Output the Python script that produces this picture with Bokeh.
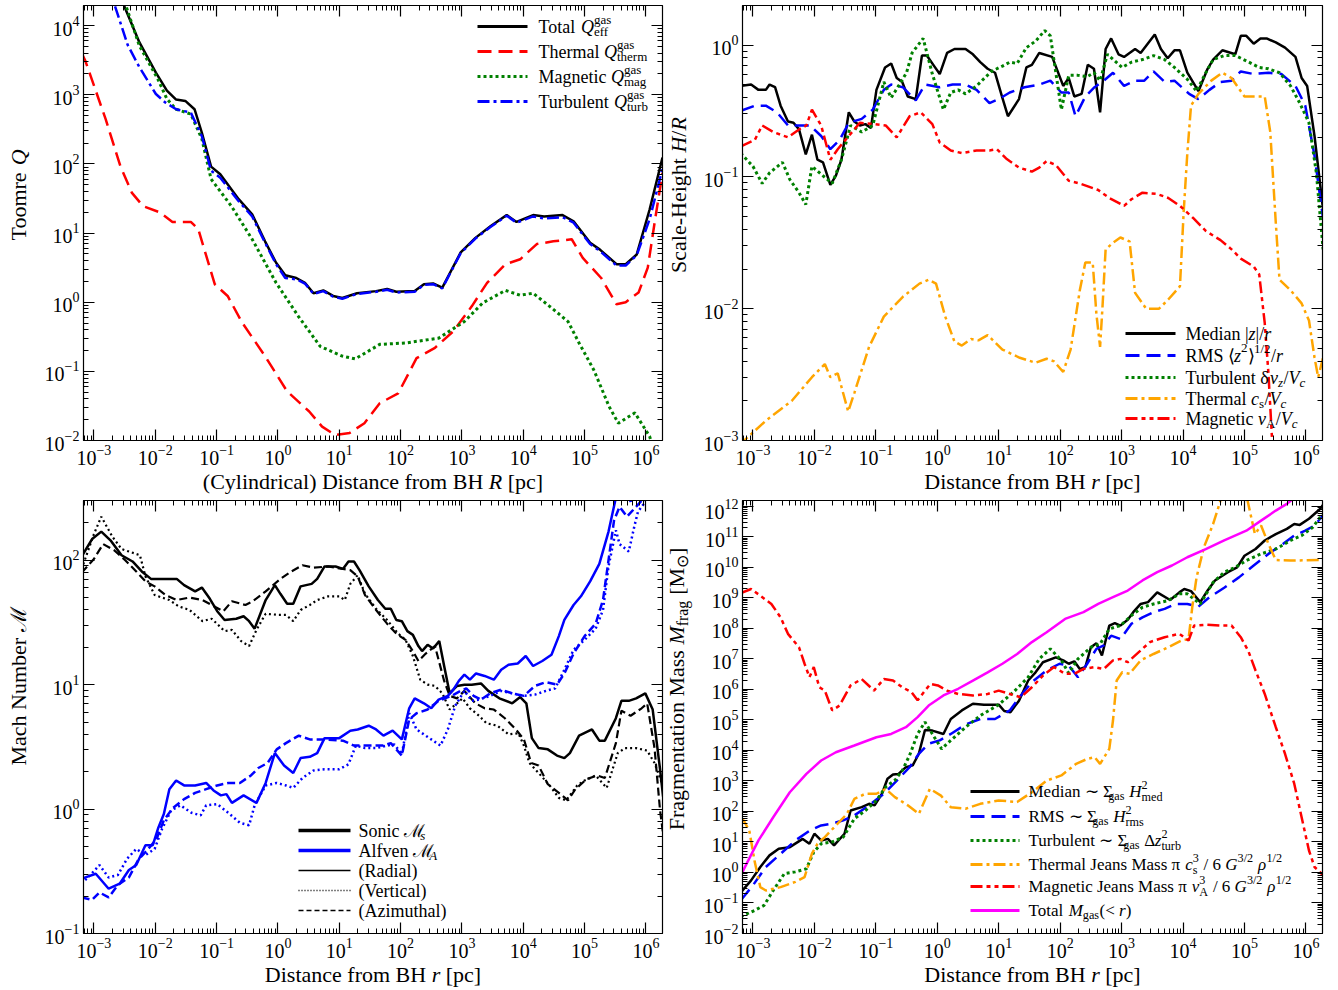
import numpy as np
from math import pi
from bokeh.plotting import figure
from bokeh.layouts import row, column
from bokeh.models import LogAxis, FixedTicker, CustomJSTickFormatter, Label, Arrow, Range1d, Spacer
from bokeh.embed import file_html
from bokeh.resources import INLINE

# ---------------- data: (log10 r [pc], log10 value) ----------------
# Panel 1: Toomre Q
Q_TOTAL = [(-2.58, 4.60), (-2.51, 4.29), (-2.26, 3.76), (-1.99, 3.32), (-1.81, 3.06), (-1.66, 2.93), (-1.51, 2.91),
           (-1.36, 2.79), (-1.24, 2.45), (-1.09, 1.96), (-0.94, 1.85), (-0.64, 1.49), (-0.42, 1.27), (-0.21, 0.88),
           (-0.03, 0.57), (0.12, 0.39), (0.30, 0.35), (0.44, 0.28), (0.58, 0.13), (0.74, 0.17), (0.90, 0.09),
           (1.05, 0.06), (1.29, 0.13), (1.60, 0.16), (1.78, 0.19), (1.93, 0.15), (2.23, 0.16), (2.38, 0.26),
           (2.53, 0.27), (2.68, 0.21), (2.98, 0.72), (3.22, 0.93), (3.47, 1.10), (3.73, 1.26), (3.89, 1.16),
           (4.16, 1.26), (4.34, 1.24), (4.64, 1.26), (4.82, 1.17), (5.09, 0.86), (5.25, 0.76), (5.52, 0.55),
           (5.67, 0.55), (5.85, 0.69), (6.06, 1.34), (6.27, 2.09)]
Q_THERM = [(-3.20, 3.60), (-3.14, 3.49), (-2.81, 2.65), (-2.57, 1.97), (-2.38, 1.58), (-2.20, 1.39), (-1.93, 1.30),
           (-1.72, 1.16), (-1.42, 1.16), (-1.30, 1.06), (-1.03, 0.26), (-0.82, 0.09), (-0.58, -0.30), (-0.21, -0.78),
           (0.15, -1.29), (0.51, -1.58), (0.72, -1.80), (0.93, -1.92), (1.17, -1.89), (1.41, -1.75), (1.66, -1.46),
           (1.96, -1.32), (2.26, -0.81), (2.56, -0.66), (2.86, -0.42), (3.16, -0.06), (3.41, 0.28), (3.71, 0.55),
           (3.95, 0.62), (4.22, 0.84), (4.49, 0.88), (4.79, 0.91), (4.97, 0.64), (5.27, 0.35), (5.52, -0.03),
           (5.67, 0.00), (5.88, 0.14), (6.03, 0.50), (6.15, 1.20), (6.27, 1.87)]
Q_MAG = [(-2.55, 4.60), (-2.48, 4.29), (-2.26, 3.71), (-1.96, 3.23), (-1.81, 2.94), (-1.66, 2.79), (-1.42, 2.72),
         (-1.24, 2.36), (-1.09, 1.78), (-0.76, 1.39), (-0.42, 0.91), (-0.03, 0.28), (0.33, -0.20), (0.69, -0.64),
         (1.05, -0.78), (1.26, -0.82), (1.66, -0.61), (2.08, -0.59), (2.62, -0.52), (3.04, -0.28), (3.34, -0.01),
         (3.71, 0.17), (3.95, 0.10), (4.16, 0.13), (4.43, -0.06), (4.73, -0.28), (4.91, -0.59), (5.15, -0.98),
         (5.40, -1.51), (5.55, -1.75), (5.82, -1.60), (6.06, -1.94), (6.15, -2.20)]
Q_TURB = [(-2.75, 4.60), (-2.66, 4.29), (-2.45, 3.72), (-2.26, 3.40), (-1.99, 3.01), (-1.84, 2.89), (-1.66, 2.79),
          (-1.42, 2.74), (-1.24, 2.40), (-1.09, 1.90), (-0.94, 1.80), (-0.64, 1.46), (-0.42, 1.24), (-0.21, 0.86),
          (-0.03, 0.55), (0.12, 0.35), (0.30, 0.33), (0.44, 0.27), (0.58, 0.12), (0.74, 0.16), (0.90, 0.08),
          (1.05, 0.05), (1.29, 0.12), (1.60, 0.15), (1.78, 0.18), (1.93, 0.14), (2.23, 0.15), (2.38, 0.25),
          (2.53, 0.26), (2.68, 0.20), (2.98, 0.71), (3.22, 0.92), (3.47, 1.09), (3.73, 1.25), (3.89, 1.15),
          (4.16, 1.24), (4.34, 1.21), (4.64, 1.23), (4.82, 1.15), (5.09, 0.84), (5.25, 0.74), (5.52, 0.53),
          (5.67, 0.53), (5.85, 0.68), (6.06, 1.20), (6.27, 1.93)]

# Panel 2: scale height H/R
H_MED = [(-3.20, -0.31), (-3.03, -0.30), (-2.91, -0.34), (-2.79, -0.34), (-2.73, -0.30), (-2.64, -0.32), (-2.55, -0.46),
         (-2.43, -0.58), (-2.34, -0.59), (-2.25, -0.64), (-2.14, -0.83), (-2.04, -0.68), (-1.95, -0.87), (-1.86, -0.89),
         (-1.74, -1.06), (-1.65, -0.99), (-1.56, -0.87), (-1.44, -0.51), (-1.35, -0.58), (-1.26, -0.61), (-1.17, -0.60),
         (-1.08, -0.63), (-0.99, -0.34), (-0.85, -0.17), (-0.75, -0.14), (-0.66, -0.25), (-0.57, -0.28), (-0.48, -0.39),
         (-0.35, -0.41), (-0.25, -0.08), (-0.17, -0.08), (-0.05, -0.16), (0.04, -0.22), (0.16, -0.06), (0.28, -0.03),
         (0.46, -0.03), (0.58, -0.07), (0.70, -0.13), (0.82, -0.18), (0.94, -0.21), (1.06, -0.40), (1.15, -0.54),
         (1.33, -0.41), (1.45, -0.17), (1.54, -0.15), (1.66, -0.06), (1.87, -0.09), (2.05, -0.31), (2.14, -0.25),
         (2.23, -0.39), (2.35, -0.37), (2.45, -0.15), (2.55, -0.18), (2.65, -0.51), (2.74, -0.03), (2.83, 0.05),
         (2.95, -0.07), (3.04, -0.09), (3.22, -0.03), (3.31, -0.06), (3.54, 0.08), (3.64, -0.03), (3.75, -0.10),
         (3.86, -0.04), (3.95, -0.04), (4.07, -0.21), (4.25, -0.35), (4.40, -0.18), (4.49, -0.11), (4.64, -0.04),
         (4.85, -0.07), (4.94, 0.07), (5.03, 0.07), (5.15, 0.01), (5.26, 0.05), (5.36, 0.05), (5.51, 0.02),
         (5.66, -0.02), (5.83, -0.09), (5.93, -0.25), (6.02, -0.31), (6.14, -0.69), (6.28, -1.25)]
H_RMS = [(-3.20, -0.50), (-2.97, -0.46), (-2.79, -0.46), (-2.61, -0.51), (-2.43, -0.61), (-2.25, -0.61), (-2.07, -0.61),
         (-1.89, -0.69), (-1.74, -0.79), (-1.59, -0.72), (-1.44, -0.59), (-1.23, -0.56), (-1.05, -0.49), (-0.87, -0.34),
         (-0.75, -0.30), (-0.56, -0.32), (-0.35, -0.42), (-0.20, -0.30), (0.04, -0.32), (0.25, -0.30), (0.46, -0.30),
         (0.64, -0.34), (0.85, -0.44), (1.00, -0.41), (1.18, -0.36), (1.42, -0.32), (1.66, -0.30), (1.84, -0.27),
         (2.02, -0.36), (2.14, -0.36), (2.25, -0.54), (2.41, -0.39), (2.56, -0.32), (2.71, -0.27), (2.86, -0.21),
         (3.04, -0.31), (3.22, -0.27), (3.37, -0.27), (3.52, -0.20), (3.70, -0.28), (3.86, -0.27), (4.10, -0.37),
         (4.25, -0.41), (4.43, -0.34), (4.61, -0.28), (4.79, -0.27), (4.94, -0.20), (5.15, -0.22), (5.39, -0.21),
         (5.60, -0.22), (5.83, -0.31), (5.99, -0.46), (6.14, -0.84), (6.28, -1.32)]
H_TURB = [(-3.20, -0.82), (-3.00, -0.92), (-2.85, -1.05), (-2.73, -0.97), (-2.52, -0.89), (-2.40, -1.02), (-2.25, -1.12),
          (-2.14, -1.21), (-2.04, -0.92), (-1.89, -0.98), (-1.71, -1.05), (-1.56, -0.87), (-1.41, -0.61), (-1.23, -0.66),
          (-1.05, -0.61), (-0.87, -0.28), (-0.75, -0.40), (-0.63, -0.31), (-0.50, -0.21), (-0.41, -0.06), (-0.23, 0.05),
          (-0.08, -0.22), (0.10, -0.49), (0.22, -0.36), (0.34, -0.34), (0.46, -0.37), (0.64, -0.31), (0.88, -0.20),
          (1.06, -0.16), (1.18, -0.13), (1.30, -0.14), (1.45, -0.02), (1.60, 0.03), (1.75, 0.11), (1.84, 0.07),
          (1.93, -0.21), (2.02, -0.49), (2.14, -0.23), (2.29, -0.23), (2.44, -0.24), (2.55, -0.21), (2.65, -0.27),
          (2.77, -0.07), (2.89, -0.12), (3.01, -0.17), (3.16, -0.13), (3.34, -0.11), (3.52, -0.08), (3.70, -0.11),
          (3.86, -0.17), (4.07, -0.26), (4.22, -0.35), (4.37, -0.21), (4.49, -0.11), (4.67, -0.08), (4.85, -0.08),
          (5.03, -0.12), (5.24, -0.17), (5.39, -0.18), (5.57, -0.21), (5.75, -0.31), (5.90, -0.44), (6.05, -0.59),
          (6.17, -0.97), (6.28, -1.55)]
H_THERM = [(-3.20, -3.05), (-3.12, -2.99), (-2.79, -2.85), (-2.37, -2.70), (-2.04, -2.52), (-1.83, -2.42), (-1.74, -2.52),
           (-1.62, -2.49), (-1.45, -2.78), (-1.35, -2.64), (-1.11, -2.29), (-0.87, -2.06), (-0.56, -1.91), (-0.29, -1.81),
           (-0.14, -1.78), (-0.02, -1.81), (0.13, -2.06), (0.28, -2.25), (0.40, -2.28), (0.55, -2.23), (0.67, -2.24),
           (0.82, -2.20), (1.06, -2.31), (1.33, -2.37), (1.60, -2.41), (1.78, -2.38), (1.90, -2.40), (2.05, -2.48),
           (2.17, -2.31), (2.32, -1.86), (2.41, -1.65), (2.53, -1.65), (2.59, -2.04), (2.65, -2.29), (2.69, -1.98),
           (2.74, -1.55), (2.86, -1.50), (2.98, -1.46), (3.13, -1.49), (3.22, -1.88), (3.40, -2.00), (3.61, -2.00),
           (3.76, -1.93), (3.95, -1.83), (4.01, -1.27), (4.07, -0.82), (4.13, -0.46), (4.25, -0.37), (4.46, -0.27),
           (4.64, -0.21), (4.79, -0.25), (5.00, -0.39), (5.15, -0.39), (5.33, -0.39), (5.42, -0.66), (5.51, -1.35),
           (5.57, -1.78), (5.75, -1.86), (5.93, -1.96), (6.05, -2.09), (6.14, -2.37), (6.20, -2.52), (6.28, -2.37)]
H_MAG = [(-3.20, -0.77), (-2.97, -0.72), (-2.85, -0.61), (-2.67, -0.66), (-2.43, -0.70), (-2.25, -0.64), (-2.13, -0.61),
         (-2.04, -0.49), (-1.89, -0.61), (-1.74, -0.87), (-1.62, -0.79), (-1.44, -0.69), (-1.26, -0.59), (-1.02, -0.60),
         (-0.84, -0.61), (-0.66, -0.70), (-0.45, -0.54), (-0.27, -0.51), (-0.08, -0.60), (0.04, -0.74), (0.22, -0.80),
         (0.40, -0.82), (0.64, -0.80), (0.85, -0.80), (0.97, -0.79), (1.12, -0.86), (1.33, -0.93), (1.54, -0.96),
         (1.66, -0.93), (1.78, -0.88), (1.93, -0.91), (2.14, -1.03), (2.32, -1.05), (2.62, -1.10), (2.80, -1.16),
         (3.04, -1.22), (3.16, -1.17), (3.34, -1.12), (3.58, -1.13), (3.76, -1.16), (3.95, -1.22), (4.16, -1.31),
         (4.37, -1.41), (4.61, -1.48), (4.79, -1.55), (4.94, -1.62), (5.15, -1.68), (5.24, -1.74), (5.33, -2.11),
         (5.39, -2.49), (5.45, -3.00), (5.47, -3.40)]

# Panel 3: Mach numbers
MS_RAD = [(-3.20, 2.03), (-3.03, 2.17), (-2.88, 2.23), (-2.73, 2.16), (-2.55, 2.04), (-2.37, 1.99), (-2.22, 1.91),
          (-2.07, 1.85), (-1.92, 1.85), (-1.65, 1.85), (-1.53, 1.80), (-1.35, 1.75), (-1.24, 1.78), (-1.11, 1.69),
          (-0.99, 1.59), (-0.87, 1.52), (-0.68, 1.53), (-0.56, 1.55), (-0.47, 1.51), (-0.38, 1.45), (-0.20, 1.68),
          (-0.05, 1.80), (0.04, 1.73), (0.15, 1.65), (0.25, 1.65), (0.37, 1.79), (0.55, 1.81), (0.64, 1.85),
          (0.76, 1.95), (0.94, 1.95), (1.06, 1.93), (1.15, 1.99), (1.24, 1.99), (1.33, 1.92), (1.48, 1.79),
          (1.63, 1.68), (1.75, 1.61), (1.84, 1.61), (1.93, 1.52), (2.02, 1.51), (2.11, 1.43), (2.20, 1.40),
          (2.29, 1.31), (2.35, 1.27), (2.44, 1.32), (2.53, 1.29), (2.63, 1.35), (2.71, 1.15), (2.80, 0.93),
          (2.92, 0.99), (3.04, 1.00), (3.16, 1.00), (3.31, 1.01), (3.43, 0.95), (3.61, 0.89), (3.82, 0.85),
          (3.95, 0.90), (4.05, 0.85), (4.14, 0.57), (4.25, 0.49), (4.40, 0.48), (4.55, 0.43), (4.67, 0.41),
          (4.76, 0.45), (4.91, 0.59), (5.12, 0.64), (5.24, 0.55), (5.33, 0.55), (5.51, 0.73), (5.60, 0.87),
          (5.72, 0.87), (5.84, 0.89), (5.99, 0.93), (6.11, 0.80), (6.23, 0.32), (6.28, 0.10)]
MS_VER = [(-3.20, 1.93), (-3.00, 2.21), (-2.88, 2.35), (-2.70, 2.19), (-2.55, 2.09), (-2.25, 2.04), (-2.16, 1.87),
          (-2.01, 1.72), (-1.77, 1.68), (-1.62, 1.63), (-1.44, 1.60), (-1.23, 1.51), (-1.08, 1.53), (-0.87, 1.43),
          (-0.75, 1.44), (-0.60, 1.35), (-0.47, 1.31), (-0.35, 1.44), (-0.20, 1.57), (0.01, 1.56), (0.13, 1.56),
          (0.25, 1.51), (0.37, 1.60), (0.52, 1.64), (0.64, 1.68), (0.82, 1.71), (1.00, 1.71), (1.09, 1.68),
          (1.18, 1.81), (1.30, 1.88), (1.42, 1.73), (1.60, 1.61), (1.78, 1.52), (1.96, 1.41), (2.08, 1.36),
          (2.20, 1.23), (2.32, 1.04), (2.44, 1.00), (2.56, 0.99), (2.68, 0.93), (2.80, 0.80), (2.92, 0.85),
          (3.01, 0.89), (3.13, 0.81), (3.28, 0.75), (3.40, 0.69), (3.58, 0.67), (3.76, 0.60), (3.92, 0.61),
          (4.01, 0.51), (4.10, 0.37), (4.25, 0.29), (4.43, 0.19), (4.58, 0.09), (4.70, 0.07), (4.88, 0.19),
          (5.00, 0.23), (5.18, 0.27), (5.36, 0.17), (5.54, 0.45), (5.66, 0.49), (5.84, 0.49), (6.02, 0.47),
          (6.14, 0.37), (6.28, 0.18)]
MS_AZI = [(-3.20, 1.90), (-3.00, 2.01), (-2.85, 2.13), (-2.67, 2.08), (-2.49, 2.00), (-2.31, 1.91), (-2.16, 1.83),
          (-2.01, 1.79), (-1.83, 1.72), (-1.65, 1.68), (-1.44, 1.70), (-1.23, 1.68), (-1.08, 1.64), (-0.89, 1.59),
          (-0.75, 1.67), (-0.53, 1.64), (-0.41, 1.67), (-0.20, 1.75), (0.04, 1.85), (0.22, 1.91), (0.40, 1.96),
          (0.58, 1.94), (0.82, 1.95), (1.06, 1.93), (1.18, 1.92), (1.30, 1.87), (1.42, 1.72), (1.60, 1.60),
          (1.78, 1.49), (1.93, 1.41), (2.08, 1.36), (2.20, 1.27), (2.29, 1.19), (2.41, 1.25), (2.56, 1.31),
          (2.71, 1.03), (2.80, 0.91), (2.92, 0.89), (3.04, 0.95), (3.22, 0.85), (3.37, 0.81), (3.52, 0.80),
          (3.70, 0.73), (3.88, 0.64), (4.01, 0.56), (4.13, 0.37), (4.25, 0.35), (4.40, 0.20), (4.58, 0.13),
          (4.73, 0.07), (4.85, 0.16), (5.03, 0.24), (5.21, 0.27), (5.33, 0.25), (5.51, 0.53), (5.60, 0.79),
          (5.75, 0.75), (5.93, 0.81), (6.02, 0.85), (6.14, 0.49), (6.23, -0.01), (6.28, -0.20)]
MA_RAD = [(-3.20, -0.56), (-2.97, -0.52), (-2.76, -0.64), (-2.58, -0.60), (-2.43, -0.49), (-2.31, -0.45), (-2.16, -0.29),
          (-2.04, -0.29), (-1.95, -0.15), (-1.86, -0.04), (-1.77, 0.16), (-1.66, 0.23), (-1.53, 0.19), (-1.35, 0.19),
          (-1.17, 0.21), (-1.05, 0.15), (-0.93, 0.11), (-0.84, 0.12), (-0.75, 0.05), (-0.56, 0.11), (-0.35, 0.05),
          (-0.20, 0.21), (-0.05, 0.45), (0.10, 0.35), (0.25, 0.29), (0.37, 0.41), (0.52, 0.42), (0.64, 0.45),
          (0.76, 0.57), (1.00, 0.57), (1.18, 0.63), (1.30, 0.64), (1.48, 0.67), (1.60, 0.64), (1.72, 0.59),
          (1.87, 0.63), (2.02, 0.56), (2.14, 0.81), (2.23, 0.89), (2.38, 0.85), (2.50, 0.81), (2.62, 0.88),
          (2.77, 0.91), (2.86, 0.96), (2.95, 1.03), (3.04, 1.08), (3.13, 1.04), (3.23, 1.09), (3.37, 1.07),
          (3.52, 1.04), (3.64, 1.12), (3.76, 1.16), (3.91, 1.17), (4.04, 1.23), (4.16, 1.15), (4.31, 1.19),
          (4.46, 1.24), (4.58, 1.39), (4.67, 1.52), (4.82, 1.64), (4.94, 1.71), (5.09, 1.83), (5.24, 1.97),
          (5.39, 2.23), (5.50, 2.48), (5.60, 2.70), (5.75, 2.47), (5.85, 2.70), (6.20, 2.90)]
MA_VER = [(-3.20, -0.60), (-3.06, -0.53), (-2.91, -0.45), (-2.76, -0.55), (-2.61, -0.53), (-2.46, -0.40), (-2.31, -0.32),
          (-2.16, -0.37), (-2.01, -0.32), (-1.89, -0.16), (-1.74, -0.01), (-1.59, 0.03), (-1.41, -0.03), (-1.26, -0.05),
          (-1.17, 0.03), (-0.99, 0.04), (-0.81, -0.03), (-0.62, -0.11), (-0.47, -0.13), (-0.38, 0.03), (-0.20, 0.19),
          (-0.02, 0.21), (0.13, 0.19), (0.25, 0.17), (0.40, 0.25), (0.58, 0.31), (0.76, 0.32), (1.00, 0.32),
          (1.15, 0.36), (1.27, 0.51), (1.42, 0.49), (1.60, 0.49), (1.78, 0.51), (1.90, 0.52), (2.02, 0.44),
          (2.14, 0.77), (2.26, 0.64), (2.47, 0.57), (2.65, 0.51), (2.77, 0.64), (2.89, 0.83), (3.04, 0.95),
          (3.16, 0.87), (3.28, 0.88), (3.46, 0.91), (3.64, 0.95), (3.82, 0.93), (4.01, 0.91), (4.19, 0.92),
          (4.37, 0.95), (4.52, 0.97), (4.67, 1.12), (4.82, 1.28), (5.00, 1.36), (5.18, 1.45), (5.30, 1.60),
          (5.39, 1.95), (5.51, 2.24), (5.57, 2.13), (5.72, 2.07), (5.81, 2.27), (5.87, 2.39), (5.96, 2.45),
          (6.10, 2.70)]
MA_AZI = [(-3.20, -0.71), (-3.03, -0.73), (-2.91, -0.67), (-2.76, -0.71), (-2.61, -0.61), (-2.43, -0.55), (-2.28, -0.41),
          (-2.13, -0.33), (-1.98, -0.24), (-1.86, -0.09), (-1.71, 0.01), (-1.53, 0.08), (-1.35, 0.13), (-1.17, 0.16),
          (-0.99, 0.19), (-0.81, 0.21), (-0.62, 0.21), (-0.44, 0.27), (-0.32, 0.33), (-0.17, 0.37), (-0.02, 0.48),
          (0.13, 0.53), (0.34, 0.59), (0.52, 0.56), (0.76, 0.56), (1.06, 0.55), (1.24, 0.51), (1.48, 0.51),
          (1.72, 0.51), (1.84, 0.53), (2.02, 0.43), (2.14, 0.72), (2.26, 0.77), (2.44, 0.80), (2.62, 0.87),
          (2.83, 0.91), (2.98, 0.95), (3.07, 0.97), (3.19, 0.91), (3.31, 0.88), (3.46, 0.93), (3.64, 0.96),
          (3.82, 0.93), (4.01, 0.91), (4.19, 0.99), (4.37, 1.02), (4.55, 1.00), (4.67, 1.09), (4.82, 1.25),
          (5.00, 1.39), (5.18, 1.49), (5.30, 1.68), (5.39, 2.00), (5.48, 2.32), (5.57, 2.43), (5.69, 2.35),
          (5.84, 2.43), (5.93, 2.48), (6.10, 2.70)]

# Panel 4: fragmentation mass [Msun]
M_MED = [(-3.20, -0.66), (-3.03, -0.26), (-2.88, 0.18), (-2.73, 0.56), (-2.58, 0.78), (-2.40, 0.83), (-2.19, 1.10),
         (-2.08, 0.94), (-2.00, 1.27), (-1.89, 1.05), (-1.78, 1.10), (-1.68, 0.89), (-1.51, 1.27), (-1.41, 2.03),
         (-1.23, 2.14), (-1.11, 2.25), (-1.02, 2.20), (-0.90, 2.58), (-0.81, 3.07), (-0.72, 3.21), (-0.63, 3.23),
         (-0.51, 3.45), (-0.40, 3.51), (-0.30, 3.89), (-0.20, 4.67), (-0.08, 4.65), (0.10, 4.54), (0.22, 5.03),
         (0.40, 5.31), (0.58, 5.53), (0.76, 5.50), (1.00, 5.50), (1.09, 5.29), (1.19, 5.25), (1.33, 5.63),
         (1.48, 6.29), (1.60, 6.56), (1.72, 6.89), (1.93, 7.05), (2.05, 6.95), (2.14, 6.84), (2.23, 6.92),
         (2.32, 6.67), (2.41, 6.73), (2.50, 7.38), (2.59, 7.51), (2.68, 7.11), (2.80, 8.09), (2.89, 8.17),
         (2.98, 8.09), (3.10, 8.28), (3.19, 8.53), (3.31, 8.80), (3.43, 8.86), (3.58, 9.18), (3.79, 8.93),
         (3.94, 9.18), (4.02, 9.29), (4.13, 9.22), (4.28, 8.86), (4.40, 9.24), (4.52, 9.57), (4.73, 9.84),
         (4.88, 10.00), (5.00, 10.38), (5.18, 10.60), (5.33, 10.88), (5.51, 11.09), (5.69, 11.26), (5.81, 11.42),
         (5.90, 11.39), (6.05, 11.59), (6.23, 11.91), (6.28, 12.05)]
M_RMS = [(-3.20, -0.92), (-3.00, -0.42), (-2.79, 0.18), (-2.55, 0.61), (-2.31, 1.05), (-2.07, 1.38), (-1.89, 1.54),
         (-1.71, 1.60), (-1.53, 1.71), (-1.35, 1.87), (-1.11, 2.20), (-0.87, 2.58), (-0.63, 3.07), (-0.45, 3.45),
         (-0.30, 3.89), (-0.14, 4.22), (0.04, 4.33), (0.22, 4.54), (0.46, 4.85), (0.70, 5.03), (0.94, 5.03),
         (1.18, 5.31), (1.36, 5.80), (1.54, 6.24), (1.78, 6.62), (1.99, 6.84), (2.14, 6.78), (2.29, 6.40),
         (2.44, 6.84), (2.59, 7.33), (2.71, 7.44), (2.83, 7.76), (2.98, 7.65), (3.16, 8.15), (3.34, 8.36),
         (3.52, 8.53), (3.70, 8.64), (3.88, 8.80), (4.07, 8.80), (4.25, 8.71), (4.43, 9.02), (4.67, 9.33),
         (4.91, 9.67), (5.15, 10.06), (5.39, 10.44), (5.63, 10.77), (5.81, 11.04), (5.99, 11.20), (6.14, 11.37),
         (6.23, 11.59), (6.28, 11.70)]
M_TURB = [(-3.20, -1.45), (-2.97, -1.24), (-2.82, -1.08), (-2.67, -0.59), (-2.49, -0.04), (-2.31, 0.02), (-2.13, 0.12),
          (-2.01, 0.67), (-1.89, 0.94), (-1.71, 1.00), (-1.53, 1.16), (-1.35, 1.76), (-1.17, 2.03), (-0.99, 2.36),
          (-0.84, 2.80), (-0.69, 3.02), (-0.57, 3.34), (-0.45, 3.84), (-0.32, 4.54), (-0.20, 4.93), (-0.08, 4.54),
          (0.07, 4.05), (0.22, 4.33), (0.46, 4.76), (0.70, 5.14), (1.00, 5.50), (1.24, 5.91), (1.48, 6.40),
          (1.66, 7.00), (1.84, 7.33), (2.02, 6.95), (2.14, 6.53), (2.29, 7.00), (2.50, 7.38), (2.65, 7.49),
          (2.80, 7.98), (2.98, 8.09), (3.16, 8.42), (3.34, 8.69), (3.52, 8.80), (3.76, 8.91), (3.94, 9.13),
          (4.07, 9.13), (4.28, 8.80), (4.49, 9.51), (4.67, 9.84), (4.85, 10.00), (5.03, 10.22), (5.27, 10.44),
          (5.51, 10.60), (5.75, 10.88), (5.93, 11.04), (6.11, 11.31), (6.23, 11.64), (6.28, 11.75)]
M_THERM = [(-3.20, 1.80), (-3.15, 1.70), (-3.06, 1.38), (-2.97, 0.34), (-2.88, -0.48), (-2.79, -0.59), (-2.55, -0.48),
           (-2.31, -0.31), (-2.16, -0.15), (-2.04, 0.62), (-1.95, 0.94), (-1.83, 1.16), (-1.65, 1.54), (-1.47, 1.92),
           (-1.35, 2.41), (-1.17, 2.58), (-0.99, 2.58), (-0.84, 2.74), (-0.69, 2.47), (-0.48, 2.20), (-0.30, 1.92),
           (-0.12, 2.74), (0.06, 2.52), (0.22, 2.14), (0.46, 2.09), (0.70, 2.25), (1.00, 2.36), (1.30, 2.31),
           (1.54, 2.63), (1.78, 3.01), (2.02, 3.18), (2.26, 3.56), (2.44, 3.72), (2.56, 3.78), (2.65, 3.56),
           (2.80, 4.05), (2.86, 4.98), (2.92, 6.29), (3.01, 6.56), (3.13, 6.51), (3.31, 6.95), (3.52, 7.16),
           (3.76, 7.38), (3.97, 7.60), (4.09, 7.65), (4.15, 8.69), (4.22, 9.67), (4.34, 10.66), (4.49, 11.42),
           (4.61, 12.19), (4.66, 12.60), (4.98, 12.60), (5.05, 12.19), (5.17, 11.09), (5.27, 11.37), (5.39, 10.77),
           (5.51, 10.24), (5.75, 10.22), (6.20, 10.24), (6.28, 10.24)]
M_MAG = [(-3.20, 9.15), (-3.03, 9.29), (-2.88, 9.07), (-2.70, 8.80), (-2.55, 8.36), (-2.43, 7.82), (-2.25, 7.38),
         (-2.16, 6.84), (-2.08, 6.40), (-2.01, 6.73), (-1.92, 6.07), (-1.83, 5.96), (-1.71, 5.31), (-1.59, 5.47),
         (-1.41, 6.13), (-1.23, 6.34), (-1.03, 5.96), (-0.87, 6.34), (-0.72, 6.29), (-0.57, 6.07), (-0.42, 5.91),
         (-0.32, 5.64), (-0.20, 5.96), (-0.11, 6.18), (0.01, 6.13), (0.16, 5.96), (0.34, 5.85), (0.58, 5.80),
         (0.82, 5.85), (1.00, 5.96), (1.18, 5.85), (1.36, 5.74), (1.54, 6.07), (1.72, 6.45), (1.90, 6.73),
         (2.08, 6.51), (2.23, 6.51), (2.38, 6.67), (2.56, 6.73), (2.71, 6.67), (2.86, 6.95), (2.98, 7.00),
         (3.10, 6.89), (3.28, 7.22), (3.46, 7.55), (3.70, 7.71), (3.94, 7.82), (4.09, 7.60), (4.18, 8.09),
         (4.37, 8.12), (4.61, 8.09), (4.79, 8.09), (4.94, 7.71), (5.06, 7.27), (5.18, 6.62), (5.33, 5.85),
         (5.51, 4.76), (5.66, 3.89), (5.81, 2.91), (5.93, 1.81), (6.05, 0.72), (6.14, 0.18), (6.23, 0.01),
         (6.28, -0.10)]
M_GAS = [(-3.20, -0.10), (-3.09, 0.34), (-2.91, 1.05), (-2.67, 1.81), (-2.40, 2.63), (-2.13, 3.23), (-1.89, 3.67),
         (-1.65, 3.94), (-1.35, 4.16), (-0.99, 4.43), (-0.75, 4.54), (-0.51, 4.76), (-0.32, 5.09), (-0.14, 5.47),
         (0.10, 5.80), (0.34, 6.02), (0.58, 6.29), (0.82, 6.56), (1.06, 6.84), (1.30, 7.16), (1.54, 7.55),
         (1.78, 7.87), (2.08, 8.31), (2.38, 8.53), (2.62, 8.80), (2.86, 9.02), (3.10, 9.24), (3.34, 9.57),
         (3.58, 9.84), (3.82, 10.06), (4.07, 10.33), (4.37, 10.60), (4.67, 10.88), (5.03, 11.20), (5.27, 11.53),
         (5.51, 11.86), (5.69, 12.08), (5.95, 12.50)]

# axis ranges (log10)
LOGX = (-3.17, 6.27)
Y1 = (-2.0, 4.29)
Y2 = (-3.0, 0.30)
Y3 = (-1.0, 2.48)
Y4 = (-2.0, 12.19)

# ---------------- styling helpers ----------------
FONT = "Liberation Serif"
BLACK, RED, GREEN, BLUE, ORANGE, MAGENTA = "#000000", "#ff0000", "#008000", "#0000ff", "#ffa500", "#ff00ff"
SOLID, DASHED, DOTTED, DASHDOT, DASHDOTDOT = "solid", "14 7", "3 3", "12 4 3 4", "12 4 4 4 4 4"

_up = [722, 667, 667, 722, 611, 556, 722, 722, 333, 389, 722, 611, 889, 722, 722, 556, 722, 667, 556, 611, 722, 722, 944, 722, 722, 611]
_lo = [444, 500, 444, 500, 444, 333, 500, 500, 278, 278, 500, 278, 778, 500, 500, 500, 500, 333, 389, 278, 500, 500, 722, 500, 500, 444]
TW = {c: w for c, w in zip("ABCDEFGHIJKLMNOPQRSTUVWXYZ", _up)}
TW.update({c: w for c, w in zip("abcdefghijklmnopqrstuvwxyz", _lo)})
TW.update({c: 500 for c in "0123456789"})
TW.update({" ": 250, "(": 333, ")": 333, "[": 333, "]": 333, "/": 278, "|": 200, "-": 333, "<": 564, "∼": 541,
           "Σ": 592, "Δ": 612, "π": 549, "ρ": 500, "δ": 494, "⟨": 333, "⟩": 333, "ℳ": 900, "⊙": 780})
TWI = {"Q": 722, "R": 611, "H": 722, "M": 833, "G": 722, "V": 611, "A": 611, "z": 389, "r": 389, "v": 444, "c": 444, "s": 389}
SCRIPT = 0.72


def tw(s, size, italic=False):
    tot = 0
    for ch in s:
        tot += TWI.get(ch, TW.get(ch, 500)) if italic else TW.get(ch, 500)
    return tot * size / 1000.0


def seg_w(seg, size):
    sm = size * SCRIPT
    k = seg[0]
    if k == "t":
        return tw(seg[1], size, seg[2])
    if k in ("sup", "sub"):
        return tw(seg[1], sm, seg[2]) + 0.5
    return max(tw(seg[1], sm, seg[3]), tw(seg[2], sm, seg[4])) + 0.5


def put(p, x, y, txt, size, italic, angle):
    p.add_layout(Label(x=x, y=y, x_units="screen", y_units="screen", text=txt, angle=angle,
                       text_font=FONT, text_font_size=f"{size:.1f}px",
                       text_font_style="italic" if italic else "normal",
                       text_baseline="middle", text_align="left", text_color="black"))


def rich(p, x, y, segs, size, vertical=False, center=False):
    sm = size * SCRIPT
    total = sum(seg_w(s, size) for s in segs)
    pos = -total / 2 if center else 0.0
    for s in segs:
        k = s[0]
        if k == "t":
            items = [(s[1], size, s[2], 0.0)]
        elif k == "sup":
            items = [(s[1], sm, s[2], 0.40 * size)]
        elif k == "sub":
            items = [(s[1], sm, s[2], -0.28 * size)]
        else:
            items = [(s[1], sm, s[3], 0.40 * size), (s[2], sm, s[4], -0.30 * size)]
        for txt, sz, it, sh in items:
            lead = len(txt) - len(txt.lstrip(" "))
            off = tw(" " * lead, sz)
            txt = txt.strip(" ")
            if not txt:
                continue
            if vertical:
                put(p, x - sh, y + pos + off, txt, sz, it, pi / 2)
            else:
                put(p, x + pos + off, y + sh, txt, sz, it, 0.0)
        pos += seg_w(s, size)


def ticker(lo, hi):
    major = [10.0 ** k for k in range(lo, hi + 1)]
    minor = [m * 10.0 ** k for k in range(lo - 1, hi + 1) for m in range(2, 10)]
    return FixedTicker(ticks=major, minor_ticks=minor)


def style_axis(ax, labels=True):
    ax.axis_line_color = "black"
    ax.axis_line_width = 1.2
    ax.major_tick_in = 11
    ax.major_tick_out = 0
    ax.minor_tick_in = 5
    ax.minor_tick_out = 0
    ax.major_tick_line_color = "black"
    ax.minor_tick_line_color = "black"
    ax.major_tick_line_width = 1.2
    ax.minor_tick_line_width = 1.0
    ax.axis_label = None
    if labels:
        ax.major_label_text_font = FONT
        ax.major_label_text_font_size = "20px"
        ax.major_label_text_color = "black"
        ax.major_label_standoff = 4
    else:
        ax.formatter = CustomJSTickFormatter(code="return ''")
        ax.major_label_text_font_size = "1px"
        ax.major_label_standoff = 0


def make_fig(w, h, logy, ydec, ml, mr, mt, mb):
    p = figure(width=w, height=h, x_axis_type="log", y_axis_type="log",
               x_range=Range1d(10 ** LOGX[0], 10 ** LOGX[1]), y_range=Range1d(10 ** logy[0], 10 ** logy[1]),
               output_backend="svg", toolbar_location=None,
               min_border_left=ml, min_border_right=mr, min_border_top=mt, min_border_bottom=mb)
    p.grid.visible = False
    p.outline_line_color = "black"
    p.background_fill_color = "white"
    p.border_fill_color = "white"
    p.xaxis[0].ticker = ticker(-3, 6)
    p.yaxis[0].ticker = ticker(*ydec)
    style_axis(p.xaxis[0])
    style_axis(p.yaxis[0])
    top = LogAxis(ticker=ticker(-3, 6))
    style_axis(top, False)
    p.add_layout(top, "above")
    right = LogAxis(ticker=ticker(*ydec))
    style_axis(right, False)
    p.add_layout(right, "right")
    return p


def text_fig(w, h):
    f = figure(width=w, height=h, x_range=Range1d(0, 1), y_range=Range1d(0, 1),
               output_backend="svg", toolbar_location=None, x_axis_location=None, y_axis_location=None,
               min_border=0, min_border_left=0, min_border_right=0, min_border_top=0, min_border_bottom=0)
    f.grid.visible = False
    f.outline_line_color = None
    f.background_fill_color = "white"
    f.border_fill_color = "white"
    return f


def curve(p, pts, color, width, dash):
    xs = 10.0 ** np.array([a for a, b in pts])
    ys = 10.0 ** np.array([b for a, b in pts])
    p.line(xs, ys, line_color=color, line_width=width, line_dash=dash)


def legend(p, x0, x1, xt, ys, size, rows):
    for y, (color, width, dash, segs) in zip(ys, rows):
        p.add_layout(Arrow(end=None, x_start=x0, y_start=y, x_end=x1, y_end=y,
                           start_units="screen", end_units="screen",
                           line_color=color, line_width=width, line_dash=dash))
        rich(p, xt, y, segs, size)


LW = 2.5
# layout sizes: columns 30 | 634 | 30 | 644 ; rows 468 | 30 | 463 | 29
C0, C1, C2, C3 = 30, 634, 30, 644
RA, RB, RC, RD = 468, 30, 463, 29

# ---------------- panel 1 ----------------
p1 = make_fig(C1, RA, Y1, (-2, 4), 53, 2, 5, 28)
curve(p1, Q_TOTAL, BLACK, LW, SOLID)
curve(p1, Q_THERM, RED, LW, DASHED)
curve(p1, Q_MAG, GREEN, 3, DOTTED)
curve(p1, Q_TURB, BLUE, LW, DASHDOT)
legend(p1, 394, 444, 455, [414, 389, 364, 339], 18, [
    (BLACK, 3, SOLID, [("t", "Total ", 0), ("t", "Q", 1), ("ss", "gas", "eff", 0, 0)]),
    (RED, 3, DASHED, [("t", "Thermal ", 0), ("t", "Q", 1), ("ss", "gas", "therm", 0, 0)]),
    (GREEN, 3, DOTTED, [("t", "Magnetic ", 0), ("t", "Q", 1), ("ss", "gas", "mag", 0, 0)]),
    (BLUE, 3, DASHDOT, [("t", "Turbulent ", 0), ("t", "Q", 1), ("ss", "gas", "turb", 0, 0)]),
])

# ---------------- panel 2 ----------------
p2 = make_fig(C3, RA, Y2, (-3, 0), 48, 16, 5, 28)
curve(p2, H_MED, BLACK, LW, SOLID)
curve(p2, H_RMS, BLUE, LW, DASHED)
curve(p2, H_TURB, GREEN, 3, DOTTED)
curve(p2, H_THERM, ORANGE, LW, DASHDOT)
curve(p2, H_MAG, RED, LW, DASHDOTDOT)
legend(p2, 383, 433, 443, [107, 85, 63, 42, 22], 18, [
    (BLACK, 3, SOLID, [("t", "Median |", 0), ("t", "z", 1), ("t", "|/", 0), ("t", "r", 1)]),
    (BLUE, 3, DASHED, [("t", "RMS ⟨", 0), ("t", "z", 1), ("sup", "2", 0), ("t", "⟩", 0), ("sup", "1/2", 0),
                       ("t", "/", 0), ("t", "r", 1)]),
    (GREEN, 3, DOTTED, [("t", "Turbulent δ", 0), ("t", "v", 1), ("sub", "z", 1), ("t", "/", 0), ("t", "V", 1),
                        ("sub", "c", 1)]),
    (ORANGE, 3, DASHDOT, [("t", "Thermal ", 0), ("t", "c", 1), ("sub", "s", 0), ("t", "/", 0), ("t", "V", 1),
                          ("sub", "c", 1)]),
    (RED, 3, DASHDOTDOT, [("t", "Magnetic ", 0), ("t", "v", 1), ("sub", "A", 0), ("t", "/", 0), ("t", "V", 1),
                          ("sub", "c", 1)]),
])

# ---------------- panel 3 ----------------
p3 = make_fig(C1, RC, Y3, (-1, 2), 53, 2, 2, 28)
curve(p3, MS_RAD, BLACK, 2.5, SOLID)
curve(p3, MS_VER, BLACK, 2.2, "2 3")
curve(p3, MS_AZI, BLACK, 2.2, "8 4")
curve(p3, MA_RAD, BLUE, 2.5, SOLID)
curve(p3, MA_VER, BLUE, 2.5, "2 3")
curve(p3, MA_AZI, BLUE, 2.5, "8 4")
legend(p3, 215, 267, 275, [103, 83, 63, 43, 23], 18, [
    (BLACK, 3.5, SOLID, [("t", "Sonic ", 0), ("t", "ℳ", 0), ("sub", "s", 1)]),
    (BLUE, 3.5, SOLID, [("t", "Alfven ", 0), ("t", "ℳ", 0), ("sub", "A", 1)]),
    (BLACK, 1.5, SOLID, [("t", "(Radial)", 0)]),
    (BLACK, 1.5, "1 2", [("t", "(Vertical)", 0)]),
    (BLACK, 1.5, "5 3", [("t", "(Azimuthal)", 0)]),
])

# ---------------- panel 4 ----------------
p4 = make_fig(C3, RC, Y4, (-2, 12), 48, 16, 2, 28)
curve(p4, M_MED, BLACK, LW, SOLID)
curve(p4, M_RMS, BLUE, LW, DASHED)
curve(p4, M_TURB, GREEN, 3, DOTTED)
curve(p4, M_THERM, ORANGE, LW, DASHDOT)
curve(p4, M_MAG, RED, LW, DASHDOTDOT)
curve(p4, M_GAS, MAGENTA, LW, SOLID)
legend(p4, 228, 277, 286, [142, 117, 93, 69, 47, 23], 17, [
    (BLACK, 3, SOLID, [("t", "Median ∼ Σ", 0), ("sub", "gas", 0), ("t", " ", 0), ("t", "H", 1),
                       ("ss", "2", "med", 0, 0)]),
    (BLUE, 3, DASHED, [("t", "RMS ∼ Σ", 0), ("sub", "gas", 0), ("t", " ", 0), ("t", "H", 1),
                       ("ss", "2", "rms", 0, 0)]),
    (GREEN, 3, DOTTED, [("t", "Turbulent ∼ Σ", 0), ("sub", "gas", 0), ("t", " Δ", 0), ("t", "z", 1),
                        ("ss", "2", "turb", 0, 0)]),
    (ORANGE, 3, DASHDOT, [("t", "Thermal Jeans Mass π ", 0), ("t", "c", 1), ("ss", "3", "s", 0, 0),
                          ("t", " / 6 ", 0), ("t", "G", 1), ("sup", "3/2", 0), ("t", " ", 0), ("t", "ρ", 1),
                          ("sup", "1/2", 0)]),
    (RED, 3, DASHDOTDOT, [("t", "Magnetic Jeans Mass π ", 0), ("t", "v", 1), ("ss", "3", "A", 0, 0),
                          ("t", " / 6 ", 0), ("t", "G", 1), ("sup", "3/2", 0), ("t", " ", 0), ("t", "ρ", 1),
                          ("sup", "1/2", 0)]),
    (MAGENTA, 3, SOLID, [("t", "Total ", 0), ("t", "M", 1), ("sub", "gas", 0), ("t", "(< ", 0), ("t", "r", 1),
                         ("t", ")", 0)]),
])

# ---------------- axis titles (own text panels, so nothing is clipped) ----------------
ya1 = text_fig(C0, RA)
rich(ya1, 18, RA - 222.5, [("t", "Toomre ", 0), ("t", "Q", 1)], 22, vertical=True, center=True)
ya2 = text_fig(C2, RA)
rich(ya2, 14, RA - 222.5, [("t", "Scale-Height ", 0), ("t", "H", 1), ("t", "/", 0), ("t", "R", 1)], 22,
     vertical=True, center=True)
ya3 = text_fig(C0, RC)
rich(ya3, 18, RC - 218.5, [("t", "Mach Number ", 0), ("t", "ℳ", 0)], 22, vertical=True, center=True)
ya4 = text_fig(C2, RC)
rich(ya4, 12, RC - 218.5, [("t", "Fragmentation Mass ", 0), ("t", "M", 1), ("sub", "frag", 0), ("t", " [M", 0),
                           ("sub", "⊙", 0), ("t", "]", 0)], 22, vertical=True, center=True)

xa1 = text_fig(C1, RB)
rich(xa1, 53 + 289.5, 17, [("t", "(Cylindrical) Distance from BH ", 0), ("t", "R", 1), ("t", " [pc]", 0)], 22,
     center=True)
xa2 = text_fig(C3, RB)
rich(xa2, 48 + 290, 17, [("t", "Distance from BH ", 0), ("t", "r", 1), ("t", " [pc]", 0)], 22, center=True)
xa3 = text_fig(C1, RD)
rich(xa3, 53 + 289.5, 16, [("t", "Distance from BH ", 0), ("t", "r", 1), ("t", " [pc]", 0)], 22, center=True)
xa4 = text_fig(C3, RD)
rich(xa4, 48 + 290, 16, [("t", "Distance from BH ", 0), ("t", "r", 1), ("t", " [pc]", 0)], 22, center=True)

page = column(
    row(ya1, p1, ya2, p2),
    row(Spacer(width=C0, height=RB), xa1, Spacer(width=C2, height=RB), xa2),
    row(ya3, p3, ya4, p4),
    row(Spacer(width=C0, height=RD), xa3, Spacer(width=C2, height=RD), xa4),
)
open("out.html", "w").write(file_html(page, INLINE))
